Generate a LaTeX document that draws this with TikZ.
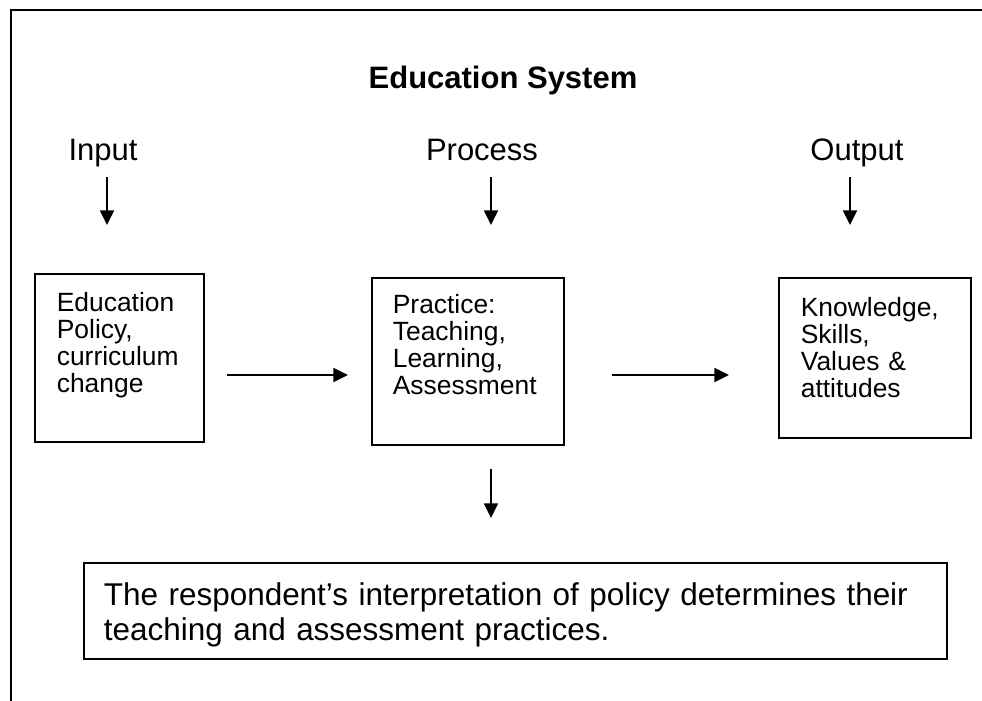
\documentclass[tikz,border=0pt]{standalone}
\usepackage{fontspec}
\setmainfont{Liberation Sans}
\usetikzlibrary{arrows.meta}
\begin{document}
\begin{tikzpicture}[x=0.75pt,y=-0.75pt,
  arr/.style={line width=1.2pt, -{Triangle[length=11pt,width=10.5pt]}},
  lbl/.style={anchor=base, inner sep=0pt, font=\fontsize{23.25pt}{26.25pt}\selectfont},
  box/.style={draw, line width=1.3pt, anchor=north west, align=left,
    font=\fontsize{19.8pt}{20.25pt}\selectfont, text height=14.2pt},
]
\useasboundingbox (0,0) rectangle (982,700);
\fill[white] (0,0) rectangle (982,700);
\draw[line width=1.6pt] (11,710) -- (11,10) -- (995,10);

\node[lbl, font=\bfseries\fontsize{23.25pt}{26.25pt}\selectfont] (title) at (503,88) {Education System};
\node[lbl] (inlbl) at (103,160) {Input};
\node[lbl] (prlbl) at (482,160) {Process};
\node[lbl] (outlbl) at (857,160) {Output};

\node[box, text width=93.75pt, inner xsep=16.5pt, inner ysep=14.25pt, text depth=83.3pt] (box1) at (34,273)
  {Education\\Policy,\\curriculum\\change};
\node[box, text width=112.5pt, inner xsep=15.75pt, inner ysep=12.75pt, text depth=85.55pt] (box2) at (371,277)
  {Practice:\\Teaching,\\Learning,\\Assessment};
\node[box, text width=111pt, inner xsep=16.5pt, inner ysep=15pt, text depth=75.8pt] (box3) at (778,277)
  {Knowledge,\\Skills,\\Values \&\\attitudes};
\node[box, font=\fontsize{23.6pt}{26.25pt}\selectfont, text width=617.25pt, inner xsep=15pt, inner ysep=15pt,
  text height=16.9pt, text depth=25.1pt] (note) at (83,562)
  {The respondent’s interpretation of policy determines their\\teaching and assessment practices.};

\coordinate (xa) at (107,0);
\coordinate (xb) at (491,0);
\coordinate (xc) at (850,0);
\coordinate (rowy) at (0,375);

\draw[arr, shorten <=12.75pt, shorten >=36pt] (inlbl.base -| xa) -- (box1.north -| xa);
\draw[arr, shorten <=12.75pt, shorten >=39pt] (prlbl.base -| xb) -- (box2.north -| xb);
\draw[arr, shorten <=12.75pt, shorten >=39pt] (outlbl.base -| xc) -- (box3.north -| xc);

\draw[arr, shorten <=16.5pt, shorten >=17.25pt] (box1.east |- rowy) -- (box2.west |- rowy);
\draw[arr, shorten <=35.25pt, shorten >=36.75pt] (box2.east |- rowy) -- (box3.west |- rowy);

\draw[arr, shorten <=17.25pt, shorten >=33pt] (box2.south -| xb) -- (note.north -| xb);
\end{tikzpicture}
\end{document}
